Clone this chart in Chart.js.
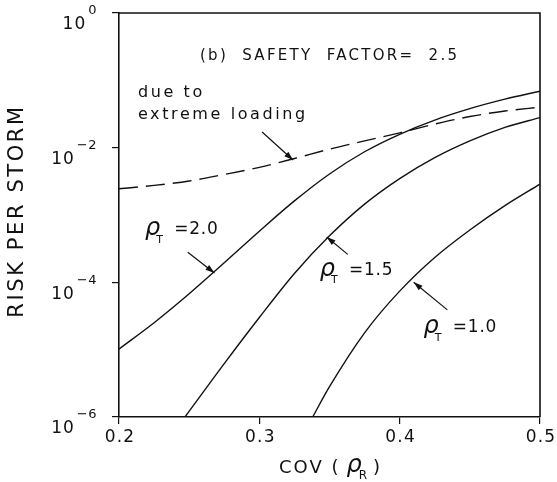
<!DOCTYPE html>
<html>
<head>
<meta charset="utf-8">
<script src="https://cdn.jsdelivr.net/npm/chart.js@4/dist/chart.umd.min.js"></script>
<style>html,body{margin:0;background:#fff}</style>
</head>
<body>
<canvas id="riskChart" width="557" height="482"></canvas>
<script>
// COV values (x) and risk per storm
const cov = [0.2, 0.225, 0.25, 0.275, 0.3, 0.325, 0.35, 0.375, 0.4, 0.425, 0.45, 0.475, 0.5];
const riskRt20 = [1.02e-5, 2.51e-5, 6.76e-5, 1.95e-4, 5.75e-4, 1.62e-3, 4.07e-3, 8.7e-3, 1.58e-2, 2.57e-2, 3.8e-2, 5.25e-2, 6.9e-2];
const riskLoading = [2.45e-3, 2.75e-3, 3.2e-3, 4.0e-3, 5.1e-3, 6.9e-3, 9.5e-3, 1.26e-2, 1.66e-2, 2.24e-2, 2.9e-2, 3.5e-2, 4.0e-2];
const covRt15 = [0.247, 0.275, 0.3, 0.325, 0.35, 0.375, 0.4, 0.425, 0.45, 0.475, 0.5];
const riskRt15 = [1.0e-6, 6.2e-6, 3.0e-5, 1.35e-4, 4.9e-4, 1.45e-3, 3.47e-3, 7.1e-3, 1.26e-2, 2.0e-2, 2.8e-2];
const covRt10 = [0.338, 0.35, 0.375, 0.4, 0.425, 0.45, 0.475, 0.5];
const riskRt10 = [1.0e-6, 2.82e-6, 1.78e-5, 7.4e-5, 2.34e-4, 6.0e-4, 1.38e-3, 2.88e-3];

const xTicks = [0.2, 0.3, 0.4, 0.5];
const xTickLabels = ['0.2', '0.3', '0.4', '0.5'];
const yTicks = [1e-6, 1e-4, 1e-2, 1];
const yTickExps = ['\u22126', '\u22124', '\u22122', '0'];

const curveLabels = ['2.0', '1.5', '1.0'];

const pts = (xs, ys) => xs.map((x, i) => ({x: x, y: ys[i]}));
const FONT = '"DejaVu Sans", sans-serif';
const INK = '#111';

function txt(ctx, s, x, y, size, align, spacing, style) {
    ctx.font = (style || '') + ' ' + size + 'px ' + FONT;
    ctx.letterSpacing = (spacing || 0) + 'px';
    ctx.textAlign = align || 'left';
    ctx.textBaseline = 'middle';
    ctx.fillText(s, x, y);
    return ctx.measureText(s).width;
}

function arrow(ctx, x1, y1, x2, y2) {
    ctx.beginPath(); ctx.moveTo(x1, y1); ctx.lineTo(x2, y2); ctx.stroke();
    const a = Math.atan2(y2 - y1, x2 - x1);
    ctx.beginPath();
    ctx.moveTo(x2, y2);
    ctx.lineTo(x2 - 9 * Math.cos(a) + 3 * Math.sin(a), y2 - 9 * Math.sin(a) - 3 * Math.cos(a));
    ctx.lineTo(x2 - 9 * Math.cos(a) - 3 * Math.sin(a), y2 - 9 * Math.sin(a) + 3 * Math.cos(a));
    ctx.closePath(); ctx.fill();
}

function rhoLabel(ctx, x, y, sub, rest) {
    let w = txt(ctx, '\u03C1', x, y - 1, 24, 'left', 0, 'italic');
    txt(ctx, sub, x + w - 4, y + 10, 11, 'left', 0);
    txt(ctx, rest, x + w + 14, y, 17, 'left', 0.8);
}

const decorations = {
    id: 'decorations',
    afterDraw(chart) {
        const ctx = chart.ctx, a = chart.chartArea;
        const X = v => chart.scales.x.getPixelForValue(v);
        const Y = v => chart.scales.y.getPixelForValue(v);
        ctx.save();
        ctx.fillStyle = INK; ctx.strokeStyle = INK;

        // top and right frame
        ctx.lineWidth = 1.6;
        ctx.beginPath(); ctx.moveTo(a.left, a.top); ctx.lineTo(a.right, a.top); ctx.lineTo(a.right, a.bottom); ctx.stroke();

        // tick labels
        yTicks.forEach((v, i) => {
            const py = Y(v);
            const we = txt(ctx, yTickExps[i], 97, py - 2, 13, 'right', 0.5);
            txt(ctx, '10', 97 - we - 2, py + 12, 17, 'right', 1);
        });
        xTicks.forEach((v, i) => txt(ctx, xTickLabels[i], X(v) + 1, a.bottom + 21, 17, 'center', 1.2));

        // axis titles
        let cx = 279;
        cx += txt(ctx, 'COV (', cx, 468, 18, 'left', 2);
        cx += 6;
        cx += txt(ctx, '\u03C1', cx, 466, 24, 'left', 0, 'italic') - 3;
        cx += txt(ctx, 'R', cx, 476, 12, 'left', 0) + 6;
        txt(ctx, ')', cx, 468, 18, 'left', 0);

        ctx.save();
        ctx.translate(18, 211); ctx.rotate(-Math.PI / 2);
        txt(ctx, 'RISK PER STORM', 0, 0, 21, 'center', 2.6);
        ctx.restore();

        // annotations
        txt(ctx, '(b)  SAFETY  FACTOR=  2.5', X(0.2577), Y(0.23), 15, 'left', 2.3);
        txt(ctx, 'due to', X(0.2135), Y(0.0646), 16, 'left', 2.6);
        txt(ctx, 'extreme loading', X(0.2135), Y(0.0305), 16, 'left', 2.6);
        ctx.lineWidth = 1.2;
        arrow(ctx, X(0.302), Y(0.0171), X(0.324), Y(0.00656));

        rhoLabel(ctx, X(0.2185), Y(6.0e-4), 'T', '=' + curveLabels[0]);
        arrow(ctx, X(0.249), Y(2.8e-4), X(0.268), Y(1.38e-4));
        rhoLabel(ctx, X(0.343), Y(1.5e-4), 'T', '=' + curveLabels[1]);
        arrow(ctx, X(0.363), Y(2.6e-4), X(0.348), Y(4.7e-4));
        rhoLabel(ctx, X(0.417), Y(2.1e-5), 'T', '=' + curveLabels[2]);
        arrow(ctx, X(0.434), Y(3.9e-5), X(0.410), Y(1.0e-4));
        ctx.restore();
    }
};

const line = (data, dash) => ({
    data: data,
    borderColor: INK,
    borderWidth: 1.4,
    borderDash: dash || [],
    pointRadius: 0,
    fill: false,
    cubicInterpolationMode: 'monotone'
});

const axisLook = {
    grid: {display: true, drawOnChartArea: false, drawTicks: true, tickLength: 7, color: INK, lineWidth: 1.2},
    border: {display: true, color: INK, width: 1.6},
    ticks: {color: 'rgba(0,0,0,0)', autoSkip: false, font: {size: 10}}
};

new Chart(document.getElementById('riskChart'), {
    type: 'line',
    data: {
        datasets: [
            line(pts(cov, riskRt20)),
            line(pts(covRt15, riskRt15)),
            line(pts(covRt10, riskRt10)),
            line(pts(cov, riskLoading), [19, 8])
        ]
    },
    options: {
        responsive: false,
        animation: false,
        events: [],
        layout: {padding: {left: 0, right: 17, top: 13, bottom: 0}},
        plugins: {legend: {display: false}, tooltip: {enabled: false}},
        scales: {
            x: Object.assign({
                type: 'linear', min: 0.2, max: 0.5,
                afterBuildTicks: s => { s.ticks = xTicks.map(v => ({value: v})); },
                afterFit: s => { s.height = 65; }
            }, axisLook),
            y: Object.assign({
                type: 'logarithmic', min: 1e-6, max: 1,
                afterBuildTicks: s => { s.ticks = yTicks.map(v => ({value: v})); },
                afterFit: s => { s.width = 119; }
            }, axisLook)
        }
    },
    plugins: [decorations]
});
</script>
</body>
</html>
